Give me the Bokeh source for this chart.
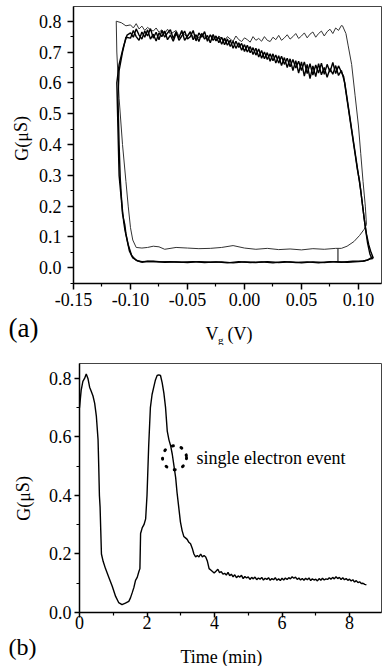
from bokeh.plotting import figure
from bokeh.models import Range1d, FixedTicker, NumeralTickFormatter, Label
from bokeh.layouts import column, row
from bokeh.embed import file_html
from bokeh.resources import INLINE

FONT = "Liberation Serif"

# ---------------- Panel (a): G vs Vg hysteresis sweeps ----------------
plateau_vg = [-0.1000, -0.0975, -0.0950, -0.0925, -0.0900, -0.0875, -0.0850, -0.0825, -0.0800, -0.0775,
              -0.0750, -0.0725, -0.0700, -0.0675, -0.0650, -0.0625, -0.0600, -0.0575, -0.0550, -0.0525,
              -0.0500, -0.0475, -0.0450, -0.0425, -0.0400, -0.0375, -0.0350, -0.0325, -0.0300, -0.0275,
              -0.0250, -0.0225, -0.0200, -0.0175, -0.0150, -0.0125, -0.0100, -0.0075, -0.0050, -0.0025,
              0.0000, 0.0025, 0.0050, 0.0075, 0.0100, 0.0125, 0.0150, 0.0175, 0.0200, 0.0225,
              0.0250, 0.0275, 0.0300, 0.0325, 0.0350, 0.0375, 0.0400, 0.0425, 0.0450, 0.0475,
              0.0500, 0.0525, 0.0550, 0.0575, 0.0600, 0.0625, 0.0650, 0.0675, 0.0700, 0.0725,
              0.0750, 0.0775, 0.0800, 0.0825, 0.0850]
plateau_g1 = [0.745, 0.770, 0.750, 0.738, 0.765, 0.748, 0.772, 0.742, 0.758, 0.736,
              0.762, 0.750, 0.768, 0.740, 0.755, 0.735, 0.760, 0.746, 0.770, 0.738,
              0.752, 0.766, 0.740, 0.756, 0.734, 0.760, 0.742, 0.754, 0.730, 0.757,
              0.736, 0.748, 0.725, 0.745, 0.722, 0.738, 0.712, 0.735, 0.715, 0.728,
              0.702, 0.722, 0.698, 0.714, 0.690, 0.710, 0.680, 0.700, 0.676, 0.694,
              0.672, 0.690, 0.664, 0.686, 0.660, 0.680, 0.652, 0.676, 0.648, 0.670,
              0.640, 0.668, 0.630, 0.662, 0.625, 0.658, 0.632, 0.664, 0.628, 0.660,
              0.635, 0.666, 0.630, 0.655, 0.635]
plateau_g2 = [0.762, 0.748, 0.775, 0.755, 0.742, 0.768, 0.752, 0.776, 0.745, 0.764,
              0.740, 0.770, 0.748, 0.762, 0.772, 0.744, 0.766, 0.738, 0.752, 0.768,
              0.742, 0.750, 0.770, 0.736, 0.762, 0.748, 0.766, 0.735, 0.756, 0.738,
              0.752, 0.730, 0.748, 0.724, 0.742, 0.718, 0.735, 0.712, 0.730, 0.706,
              0.724, 0.700, 0.718, 0.692, 0.712, 0.684, 0.705, 0.678, 0.698, 0.670,
              0.694, 0.664, 0.688, 0.656, 0.682, 0.650, 0.678, 0.640, 0.672, 0.632,
              0.668, 0.622, 0.660, 0.614, 0.655, 0.620, 0.662, 0.626, 0.650, 0.618,
              0.646, 0.628, 0.656, 0.624, 0.640]
plateau_g3 = [0.788, 0.778, 0.792, 0.775, 0.784, 0.770, 0.780, 0.772, 0.768, 0.778,
              0.764, 0.772, 0.760, 0.774, 0.758, 0.764, 0.770, 0.752, 0.762, 0.756,
              0.750, 0.764, 0.748, 0.756, 0.745, 0.760, 0.752, 0.742, 0.754, 0.748,
              0.738, 0.752, 0.744, 0.736, 0.750, 0.742, 0.735, 0.752, 0.740, 0.734,
              0.746, 0.740, 0.732, 0.750, 0.738, 0.744, 0.735, 0.750, 0.738, 0.734,
              0.748, 0.740, 0.754, 0.738, 0.746, 0.756, 0.742, 0.750, 0.760, 0.744,
              0.752, 0.762, 0.746, 0.758, 0.765, 0.748, 0.760, 0.768, 0.752, 0.766,
              0.774, 0.760, 0.778, 0.770, 0.786]

left1_vg = [-0.090, -0.094, -0.098, -0.101, -0.103, -0.105, -0.106, -0.107, -0.108, -0.109,
            -0.110, -0.111, -0.110, -0.107, -0.104]
left1_g = [0.020, 0.023, 0.032, 0.055, 0.090, 0.125, 0.150, 0.185, 0.230, 0.290,
           0.400, 0.550, 0.640, 0.700, 0.748]
left2_vg = [-0.090, -0.095, -0.099, -0.102, -0.104, -0.105, -0.107, -0.108, -0.110, -0.111,
            -0.112, -0.110, -0.106, -0.103]
left2_g = [0.018, 0.024, 0.040, 0.075, 0.110, 0.140, 0.175, 0.220, 0.300, 0.450,
           0.600, 0.660, 0.720, 0.755]
left3_vg = [-0.095, -0.098, -0.100, -0.102, -0.104, -0.107, -0.110, -0.112, -0.1125, -0.108, -0.104]
left3_g = [0.066, 0.090, 0.130, 0.200, 0.280, 0.400, 0.550, 0.700, 0.800, 0.795, 0.785]

right1_vg = [0.087, 0.089, 0.091, 0.093, 0.095, 0.097, 0.099, 0.101, 0.103, 0.105, 0.107, 0.109, 0.111, 0.113]
right1_g = [0.620, 0.570, 0.520, 0.470, 0.420, 0.370, 0.320, 0.280, 0.220, 0.160, 0.110, 0.075, 0.050, 0.032]
right2_vg = [0.088, 0.090, 0.092, 0.094, 0.096, 0.098, 0.100, 0.102, 0.104, 0.106, 0.108, 0.110, 0.112]
right2_g = [0.600, 0.550, 0.500, 0.450, 0.400, 0.350, 0.300, 0.250, 0.190, 0.130, 0.080, 0.045, 0.028]
right3_vg = [0.086, 0.089, 0.091, 0.094, 0.097, 0.100, 0.102, 0.104, 0.106, 0.107, 0.105, 0.101, 0.096, 0.090, 0.085]
right3_g = [0.785, 0.760, 0.720, 0.660, 0.560, 0.460, 0.370, 0.280, 0.200, 0.140, 0.125, 0.105, 0.085, 0.070, 0.063]

bottom1_vg = [0.110, 0.105, 0.100, 0.090, 0.080, 0.070, 0.060, 0.050, 0.040, 0.030, 0.020,
              0.010, 0.000, -0.010, -0.020, -0.030, -0.040, -0.050, -0.060, -0.070, -0.080, -0.090]
bottom1_g = [0.028, 0.022, 0.020, 0.018, 0.020, 0.017, 0.019, 0.016, 0.019, 0.017, 0.020,
             0.017, 0.019, 0.016, 0.019, 0.018, 0.020, 0.017, 0.019, 0.018, 0.021, 0.020]
bottom2_vg = [0.112, 0.108, 0.104, 0.095, 0.085, 0.075, 0.065, 0.055, 0.045, 0.035, 0.025, 0.015,
              0.005, -0.005, -0.015, -0.025, -0.035, -0.045, -0.055, -0.065, -0.075, -0.085, -0.090]
bottom2_g = [0.035, 0.025, 0.022, 0.021, 0.018, 0.020, 0.016, 0.019, 0.017, 0.020, 0.016, 0.019,
             0.017, 0.020, 0.016, 0.019, 0.017, 0.020, 0.018, 0.020, 0.019, 0.021, 0.018]
bottom3_vg = [0.080, 0.070, 0.060, 0.050, 0.040, 0.030, 0.020, 0.010, 0.000, -0.010, -0.020,
              -0.030, -0.040, -0.050, -0.060, -0.070, -0.075, -0.080, -0.085, -0.090, -0.095]
bottom3_g = [0.063, 0.060, 0.062, 0.058, 0.061, 0.059, 0.063, 0.060, 0.064, 0.072, 0.066,
             0.063, 0.062, 0.064, 0.066, 0.060, 0.068, 0.070, 0.066, 0.064, 0.066]

step_vg = [0.082, 0.082]
step_g = [0.062, 0.018]

xticks_a = [-0.15, -0.10, -0.05, 0.00, 0.05, 0.10]
xminor_a = [-0.125, -0.075, -0.025, 0.025, 0.075]
yticks_a = [0.0, 0.1, 0.2, 0.3, 0.4, 0.5, 0.6, 0.7, 0.8]
yminor_a = [-0.05, 0.05, 0.15, 0.25, 0.35, 0.45, 0.55, 0.65, 0.75]

# ---------------- Panel (b): G vs time ----------------
time_min = [0.00, 0.05, 0.10, 0.15, 0.20, 0.25, 0.30, 0.35, 0.40, 0.45, 0.50, 0.55, 0.57, 0.59,
            0.61, 0.63, 0.65, 0.70, 0.77, 0.87, 0.97, 1.07, 1.16, 1.26, 1.36, 1.46, 1.51, 1.56,
            1.61, 1.66, 1.71, 1.76, 1.79, 1.81, 1.86, 1.91, 1.96, 2.00, 2.05, 2.10, 2.15, 2.20,
            2.25, 2.30, 2.35, 2.40, 2.45, 2.50, 2.55, 2.60, 2.65, 2.70, 2.75, 2.80, 2.85, 2.89,
            2.94, 2.99, 3.04, 3.09, 3.14, 3.19, 3.24, 3.29, 3.34, 3.39, 3.44, 3.49, 3.54, 3.59,
            3.64, 3.69, 3.74, 3.79, 3.84, 3.89, 3.94, 3.99, 4.05, 4.1, 4.15, 4.2, 4.25, 4.3, 4.35,
            4.4, 4.45, 4.5, 4.55, 4.6, 4.65, 4.7, 4.75, 4.8, 4.85, 4.9, 4.95, 5.0, 5.05, 5.1, 5.15,
            5.2, 5.25, 5.3, 5.35, 5.4, 5.45, 5.5, 5.55, 5.6, 5.65, 5.7, 5.75, 5.8, 5.85, 5.9, 5.95,
            6.0, 6.05, 6.1, 6.15, 6.2, 6.25, 6.3, 6.35, 6.4, 6.45, 6.5, 6.55, 6.6, 6.65, 6.7, 6.75,
            6.8, 6.85, 6.9, 6.95, 7.0, 7.05, 7.1, 7.15, 7.2, 7.25, 7.3, 7.35, 7.4, 7.45, 7.5, 7.55,
            7.6, 7.65, 7.7, 7.75, 7.8, 7.85, 7.9, 7.95, 8.0, 8.05, 8.1, 8.15, 8.2, 8.25, 8.3, 8.35,
            8.4, 8.45, 8.5]
g_time = [0.700, 0.760, 0.790, 0.800, 0.815, 0.800, 0.770, 0.755, 0.740, 0.715, 0.670, 0.590, 0.500, 0.400,
          0.360, 0.280, 0.200, 0.175, 0.150, 0.120, 0.090, 0.055, 0.034, 0.027, 0.032, 0.038, 0.050, 0.067,
          0.085, 0.110, 0.120, 0.140, 0.150, 0.270, 0.290, 0.300, 0.320, 0.400, 0.570, 0.700, 0.745, 0.770,
          0.795, 0.810, 0.812, 0.810, 0.785, 0.750, 0.700, 0.620, 0.590, 0.570, 0.540, 0.500, 0.460, 0.410,
          0.360, 0.310, 0.280, 0.260, 0.255, 0.250, 0.240, 0.235, 0.220, 0.200, 0.190, 0.195, 0.190, 0.200,
          0.190, 0.195, 0.190, 0.175, 0.150, 0.145, 0.140, 0.135, 0.142, 0.148, 0.136, 0.140, 0.131, 0.134, 0.128,
          0.137, 0.126, 0.131, 0.122, 0.129, 0.119, 0.125, 0.121, 0.127, 0.116, 0.123, 0.118, 0.122, 0.113, 0.120, 0.115,
          0.121, 0.112, 0.118, 0.114, 0.120, 0.111, 0.117, 0.113, 0.119, 0.110, 0.116, 0.112, 0.119, 0.110, 0.115, 0.109,
          0.117, 0.111, 0.118, 0.113, 0.119, 0.115, 0.122, 0.117, 0.121, 0.113, 0.118, 0.111, 0.116, 0.110, 0.117, 0.112,
          0.118, 0.109, 0.115, 0.111, 0.114, 0.108, 0.116, 0.110, 0.117, 0.111, 0.115, 0.113, 0.119, 0.114, 0.120, 0.115,
          0.122, 0.116, 0.120, 0.113, 0.119, 0.112, 0.116, 0.110, 0.114, 0.108, 0.112, 0.104, 0.109, 0.102, 0.105, 0.099,
          0.100, 0.096, 0.095]

event_t = [2.815]
event_g = [0.529]
event_text = "single electron event"

xticks_b = [0, 2, 4, 6, 8]
xminor_b = [1, 3, 5, 7]
yticks_b = [0.0, 0.2, 0.4, 0.6, 0.8]
yminor_b = [0.1, 0.3, 0.5, 0.7]


def style_axes(p, xt, xm, yt, ym, xfmt, yfmt, tick_out, xstand, ystand):
    for ax in (p.xaxis[0], p.yaxis[0]):
        ax.axis_line_width = 1.5
        ax.axis_line_color = "black"
        ax.major_tick_line_width = 1.5
        ax.minor_tick_line_width = 1.2
        ax.major_tick_line_color = "black"
        ax.minor_tick_line_color = "black"
        ax.major_tick_in = 0
        ax.major_tick_out = tick_out
        ax.minor_tick_in = 0
        ax.minor_tick_out = 3
        ax.major_label_text_font = FONT
        ax.major_label_text_font_size = "18px"
        ax.major_label_text_color = "black"
    p.xaxis[0].ticker = FixedTicker(ticks=xt, minor_ticks=xm)
    p.yaxis[0].ticker = FixedTicker(ticks=yt, minor_ticks=ym)
    p.xaxis[0].formatter = NumeralTickFormatter(format=xfmt)
    p.yaxis[0].formatter = NumeralTickFormatter(format=yfmt)
    p.xaxis[0].major_label_standoff = xstand
    p.yaxis[0].major_label_standoff = ystand
    p.xgrid.visible = False
    p.ygrid.visible = False
    p.outline_line_color = "#444444"
    p.outline_line_width = 1
    p.background_fill_color = "white"
    p.border_fill_color = "white"


def strip(w, h):
    s = figure(width=w, height=h, output_backend="svg", toolbar_location=None,
               x_range=Range1d(0, w), y_range=Range1d(h, 0),
               x_axis_location=None, y_axis_location=None,
               min_border_left=0, min_border_right=0, min_border_top=0, min_border_bottom=0)
    s.outline_line_color = None
    s.background_fill_color = "white"
    s.border_fill_color = "white"
    s.grid.visible = False
    return s


def add_label(p, x, y, text, size="18px", align="left", baseline="alphabetic", angle=0.0):
    p.add_layout(Label(x=x, y=y, text=text, text_font=FONT, text_font_size=size,
                       text_align=align, text_baseline=baseline, angle=angle,
                       text_color="black"))


# ---- figure (a)
pa = figure(width=349, height=311, output_backend="svg", toolbar_location=None,
            x_range=Range1d(-0.15, 0.1202), y_range=Range1d(-0.051, 0.8477),
            min_border_left=39, min_border_right=2, min_border_top=6, min_border_bottom=28)
style_axes(pa, xticks_a, xminor_a, yticks_a, yminor_a, "0.00", "0.0", 6, 3, 6)

loop1_vg = left1_vg + plateau_vg + right1_vg + bottom1_vg
loop1_g = left1_g + plateau_g1 + right1_g + bottom1_g
loop2_vg = left2_vg + plateau_vg + right2_vg + bottom2_vg
loop2_g = left2_g + plateau_g2 + right2_g + bottom2_g
loop3_vg = left3_vg + plateau_vg + right3_vg + bottom3_vg
loop3_g = left3_g + plateau_g3 + right3_g + bottom3_g

pa.line(loop3_vg, loop3_g, line_color="#333333", line_width=1.0)
pa.line(loop1_vg, loop1_g, line_color="black", line_width=1.4)
pa.line(loop2_vg, loop2_g, line_color="black", line_width=1.4)
pa.line(step_vg, step_g, line_color="black", line_width=1.0)

ya = strip(34, 311)
add_label(ya, 21, 148, "G(\u03bcS)", angle=1.5708, align="center", baseline="middle")

sa = strip(383, 34)
add_label(sa, 8, 16, "(a)", size="27px", baseline="middle")
add_label(sa, 205, 22, "V")
add_label(sa, 217.5, 28, "g", size="11px")
add_label(sa, 227, 22, "(V)")

# ---- figure (b)
pb = figure(width=347, height=286, output_backend="svg", toolbar_location=None,
            x_range=Range1d(0, 8.948), y_range=Range1d(0, 0.851),
            min_border_left=43, min_border_right=2, min_border_top=18, min_border_bottom=18)
style_axes(pb, xticks_b, xminor_b, yticks_b, yminor_b, "0", "0.0", 5, -2, 3)

pb.line(time_min, g_time, line_color="black", line_width=1.4)
pb.scatter(event_t, event_g, marker="circle", size=24, fill_color=None, line_color="black",
           line_width=3, line_dash="1 8", line_cap="round")
add_label(pb, 3.467, 0.528, event_text, baseline="middle")

yb = strip(36, 286)
add_label(yb, 23, 155, "G(\u03bcS)", angle=1.5708, align="center", baseline="middle")

sb = strip(383, 35)
add_label(sb, 8, 15, "(b)", size="24px", baseline="middle")
add_label(sb, 180, 25, "Time (min)")

layout = column(row(ya, pa, spacing=0), sa, row(yb, pb, spacing=0), sb, spacing=0)
open("out.html", "w").write(file_html(layout, INLINE))
